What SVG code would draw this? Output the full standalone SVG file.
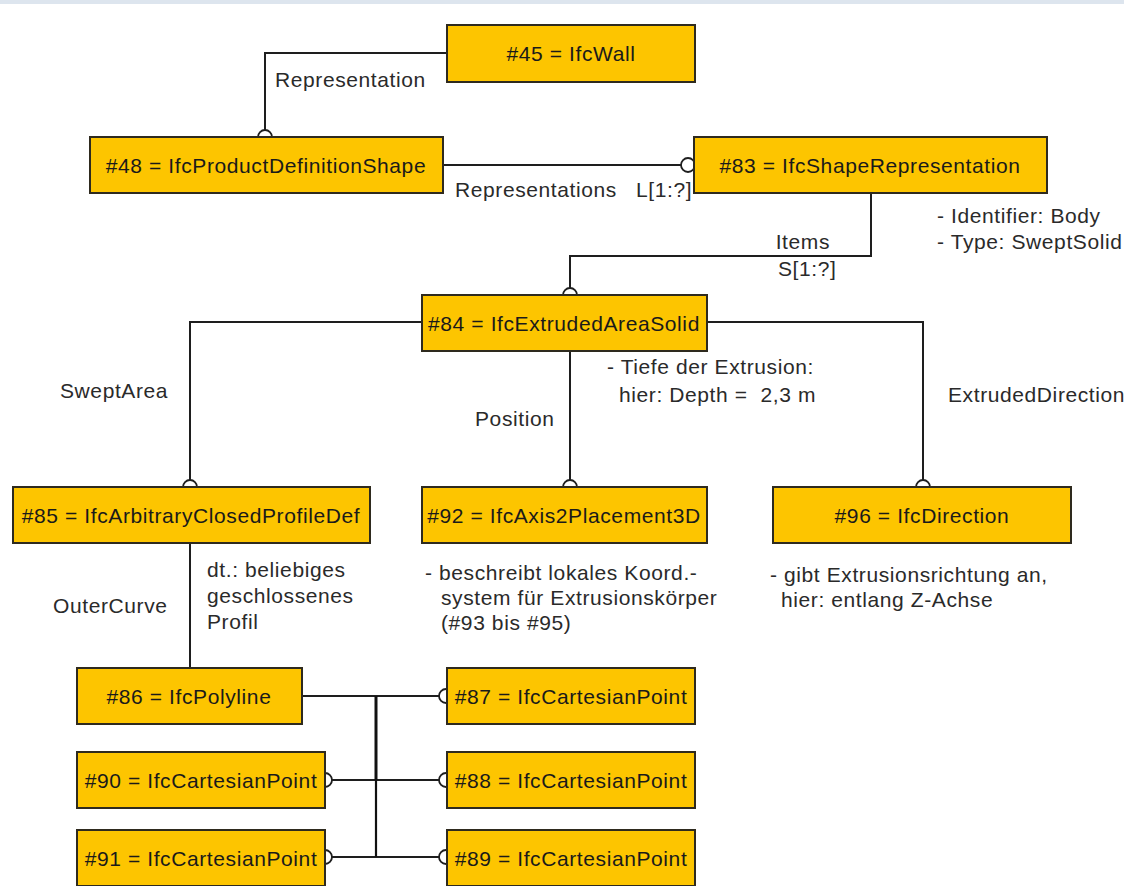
<svg xmlns="http://www.w3.org/2000/svg" width="1124" height="886" viewBox="0 0 1124 886">
<style>
.box{fill:#FDC500;stroke:#2e2a1e;stroke-width:2}
.bt{font-family:"Liberation Sans",Arial,sans-serif;font-size:21px;letter-spacing:0.6px;fill:#1a1a1a;text-anchor:middle}
.lb{font-family:"Liberation Sans",Arial,sans-serif;font-size:21px;letter-spacing:0.6px;fill:#2a2a2a;white-space:pre}
.ln{fill:none;stroke:#1e1e1e;stroke-width:2}
.ci{fill:#ffffff;stroke:#1e1e1e;stroke-width:1.8}
</style>
<rect x="0" y="0" width="1124" height="886" fill="#ffffff"/>
<rect x="0" y="0" width="1124" height="4" fill="#dde5ee"/>
<g id="connectors">
<polyline class="ln" points="447,53 265,53 265,130"/>
<circle class="ci" cx="265" cy="137" r="7"/>
<polyline class="ln" points="443,165 681,165"/>
<circle class="ci" cx="688" cy="165" r="7"/>
<polyline class="ln" points="871,193 871,256 570,256 570,288"/>
<circle class="ci" cx="570" cy="295" r="7"/>
<polyline class="ln" points="422,322 190,322 190,480"/>
<circle class="ci" cx="190" cy="487" r="7"/>
<polyline class="ln" points="570,351 570,480"/>
<circle class="ci" cx="570" cy="487" r="7"/>
<polyline class="ln" points="707,322 923,322 923,480"/>
<circle class="ci" cx="923" cy="487" r="7"/>
<polyline class="ln" points="190,543 190,668"/>
<polyline class="ln" points="302,696 440,696"/>
<circle class="ci" cx="446" cy="696" r="7"/>
<polyline class="ln" points="332,780 440,780"/>
<circle class="ci" cx="325" cy="780" r="7"/>
<circle class="ci" cx="446" cy="780" r="7"/>
<polyline class="ln" points="332,857 440,857"/>
<circle class="ci" cx="325" cy="857" r="7"/>
<circle class="ci" cx="446" cy="857" r="7"/>
<line x1="376" y1="696" x2="376" y2="780" stroke="#111" stroke-width="3"/>
<line x1="376" y1="780" x2="376" y2="857" stroke="#111" stroke-width="2.2"/>
</g>
<g id="labels">
<text class="lb" x="275" y="87">Representation</text>
<text class="lb" x="455" y="197">Representations</text>
<text class="lb" x="636" y="197">L[1:?]</text>
<text class="lb" x="830" y="249" text-anchor="end">Items</text>
<text class="lb" x="778" y="276">S[1:?]</text>
<text class="lb" x="937" y="223">- Identifier: Body</text>
<text class="lb" x="937" y="249">- Type: SweptSolid</text>
<text class="lb" x="60" y="398">SweptArea</text>
<text class="lb" x="475" y="426">Position</text>
<text class="lb" x="948" y="402">ExtrudedDirection</text>
<text class="lb" x="607" y="374">- Tiefe der Extrusion:</text>
<text class="lb" x="619" y="402">hier: Depth =  2,3 m</text>
<text class="lb" x="53" y="613">OuterCurve</text>
<text class="lb" x="207" y="577">dt.: beliebiges</text>
<text class="lb" x="207" y="603">geschlossenes</text>
<text class="lb" x="207" y="629">Profil</text>
<text class="lb" x="425" y="580">- beschreibt lokales Koord.-</text>
<text class="lb" x="441" y="605">system für Extrusionskörper</text>
<text class="lb" x="441" y="630">(#93 bis #95)</text>
<text class="lb" x="770" y="582">- gibt Extrusionsrichtung an,</text>
<text class="lb" x="781" y="607">hier: entlang Z-Achse</text>
</g>
<g id="n45"><rect class="box" x="447" y="25" width="248" height="57"/><text class="bt" x="571" y="61">#45 = IfcWall</text></g>
<g id="n48"><rect class="box" x="90" y="137" width="353" height="56"/><text class="bt" x="266" y="173">#48 = IfcProductDefinitionShape</text></g>
<g id="n83"><rect class="box" x="694" y="137" width="353" height="56"/><text class="bt" x="870" y="173">#83 = IfcShapeRepresentation</text></g>
<g id="n84"><rect class="box" x="422" y="295" width="285" height="56"/><text class="bt" x="564" y="331">#84 = IfcExtrudedAreaSolid</text></g>
<g id="n85"><rect class="box" x="13" y="487" width="357" height="56"/><text class="bt" x="191" y="523">#85 = IfcArbitraryClosedProfileDef</text></g>
<g id="n92"><rect class="box" x="422" y="487" width="285" height="56"/><text class="bt" x="564" y="523">#92 = IfcAxis2Placement3D</text></g>
<g id="n96"><rect class="box" x="773" y="487" width="298" height="56"/><text class="bt" x="922" y="523">#96 = IfcDirection</text></g>
<g id="n86"><rect class="box" x="77" y="668" width="225" height="56"/><text class="bt" x="189" y="704">#86 = IfcPolyline</text></g>
<g id="n87"><rect class="box" x="447" y="668" width="248" height="56"/><text class="bt" x="571" y="704">#87 = IfcCartesianPoint</text></g>
<g id="n90"><rect class="box" x="77" y="752" width="248" height="56"/><text class="bt" x="201" y="788">#90 = IfcCartesianPoint</text></g>
<g id="n88"><rect class="box" x="447" y="752" width="248" height="56"/><text class="bt" x="571" y="788">#88 = IfcCartesianPoint</text></g>
<g id="n91"><rect class="box" x="77" y="830" width="248" height="56"/><text class="bt" x="201" y="866">#91 = IfcCartesianPoint</text></g>
<g id="n89"><rect class="box" x="447" y="830" width="248" height="56"/><text class="bt" x="571" y="866">#89 = IfcCartesianPoint</text></g>
</svg>
